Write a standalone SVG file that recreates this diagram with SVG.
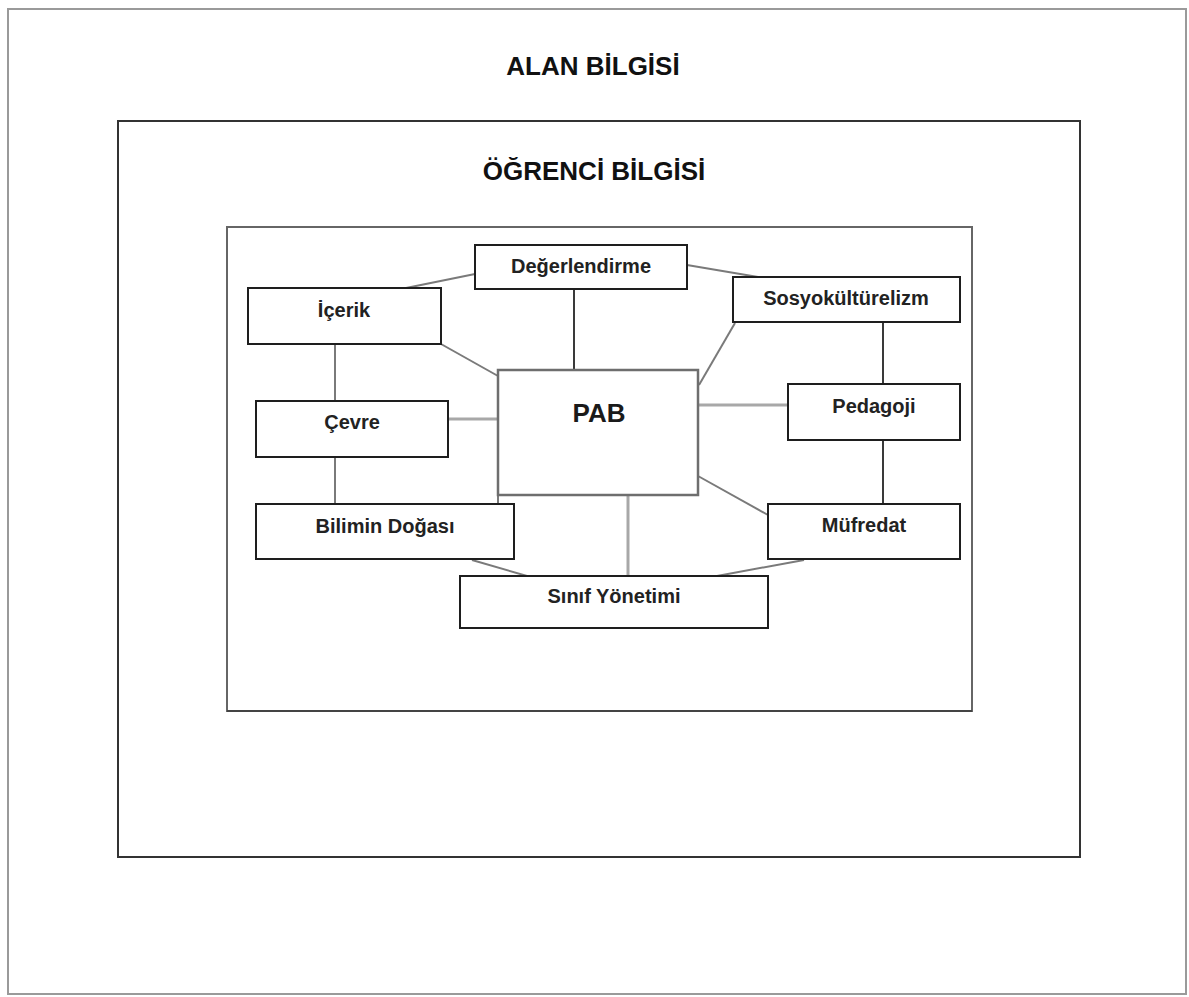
<svg xmlns="http://www.w3.org/2000/svg" width="1189" height="997" viewBox="0 0 1189 997">
  <style>
    .frame { fill: none; }
    .node rect { fill: #ffffff; stroke: #1e1e1e; stroke-width: 2; }
    .node text { font-family: "Liberation Sans", Arial, sans-serif; font-weight: bold; font-size: 20px; fill: #222; text-anchor: middle; }
    .title { font-family: "Liberation Sans", Arial, sans-serif; font-weight: bold; font-size: 26px; fill: #111; text-anchor: middle; }
    .link { stroke: #7a7a7a; stroke-width: 2; fill: none; }
    .link.dark { stroke: #3a3a3a; }
    .link.light { stroke: #a8a8a8; stroke-width: 3; }
  </style>

  <rect width="1189" height="997" fill="#ffffff"/>

  <!-- nested knowledge frames -->
  <g id="alan-bilgisi">
    <rect class="frame" x="8" y="9" width="1178" height="985" stroke="#9a9a9a" stroke-width="2"/>
    <text class="title" x="593" y="75">ALAN BİLGİSİ</text>
  </g>
  <g id="ogrenci-bilgisi">
    <rect class="frame" x="118" y="121" width="962" height="736" stroke="#333" stroke-width="2"/>
    <text class="title" x="594" y="180">ÖĞRENCİ BİLGİSİ</text>
  </g>
  <g id="pab-frame">
    <rect class="frame" x="227" y="227" width="745" height="484" stroke="#666" stroke-width="2"/>
    <line x1="227" y1="711" x2="972" y2="711" stroke="#444" stroke-width="2"/>
  </g>

  <!-- connectors between components -->
  <g id="connectors">
    <line class="link" x1="475" y1="274" x2="406" y2="288"/>
    <line class="link" x1="687" y1="265" x2="758" y2="277"/>
    <line class="link dark" x1="574" y1="289" x2="574" y2="370"/>
    <line class="link" x1="441" y1="344" x2="498" y2="376"/>
    <line class="link" x1="335" y1="344" x2="335" y2="401"/>
    <line class="link" x1="735" y1="323" x2="699" y2="385"/>
    <line class="link dark" x1="883" y1="322" x2="883" y2="384"/>
    <line class="link light" x1="698" y1="405" x2="788" y2="405"/>
    <line class="link light" x1="448" y1="419" x2="498" y2="419"/>
    <line class="link" x1="335" y1="457" x2="335" y2="504"/>
    <line class="link dark" x1="883" y1="440" x2="883" y2="504"/>
    <line class="link" x1="698" y1="476" x2="768" y2="515"/>
    <line class="link light" x1="628" y1="495" x2="628" y2="576"/>
    <line class="link" x1="498" y1="495" x2="498" y2="504"/>
    <line class="link" x1="472" y1="560" x2="527" y2="576"/>
    <line class="link" x1="804" y1="560" x2="717" y2="576"/>
  </g>

  <!-- central node -->
  <g id="pab">
    <rect x="498" y="370" width="200" height="125" fill="#ffffff" stroke="#6e6e6e" stroke-width="2.5"/>
    <text x="599" y="422" font-family="Liberation Sans, Arial, sans-serif" font-weight="bold" font-size="26" fill="#1a1a1a" text-anchor="middle">PAB</text>
  </g>

  <g id="degerlendirme" class="node">
    <rect x="475" y="245" width="212" height="44"/>
    <text x="581" y="273">Değerlendirme</text>
  </g>
  <g id="icerik" class="node">
    <rect x="248" y="288" width="193" height="56"/>
    <text x="344" y="317">İçerik</text>
  </g>
  <g id="sosyokulturelizm" class="node">
    <rect x="733" y="277" width="227" height="45"/>
    <text x="846" y="305">Sosyokültürelizm</text>
  </g>
  <g id="cevre" class="node">
    <rect x="256" y="401" width="192" height="56"/>
    <text x="352" y="429">Çevre</text>
  </g>
  <g id="pedagoji" class="node">
    <rect x="788" y="384" width="172" height="56"/>
    <text x="874" y="413">Pedagoji</text>
  </g>
  <g id="bilimin-dogasi" class="node">
    <rect x="256" y="504" width="258" height="55"/>
    <text x="385" y="533">Bilimin Doğası</text>
  </g>
  <g id="mufredat" class="node">
    <rect x="768" y="504" width="192" height="55"/>
    <text x="864" y="532">Müfredat</text>
  </g>
  <g id="sinif-yonetimi" class="node">
    <rect x="460" y="576" width="308" height="52"/>
    <text x="614" y="603">Sınıf Yönetimi</text>
  </g>
</svg>
